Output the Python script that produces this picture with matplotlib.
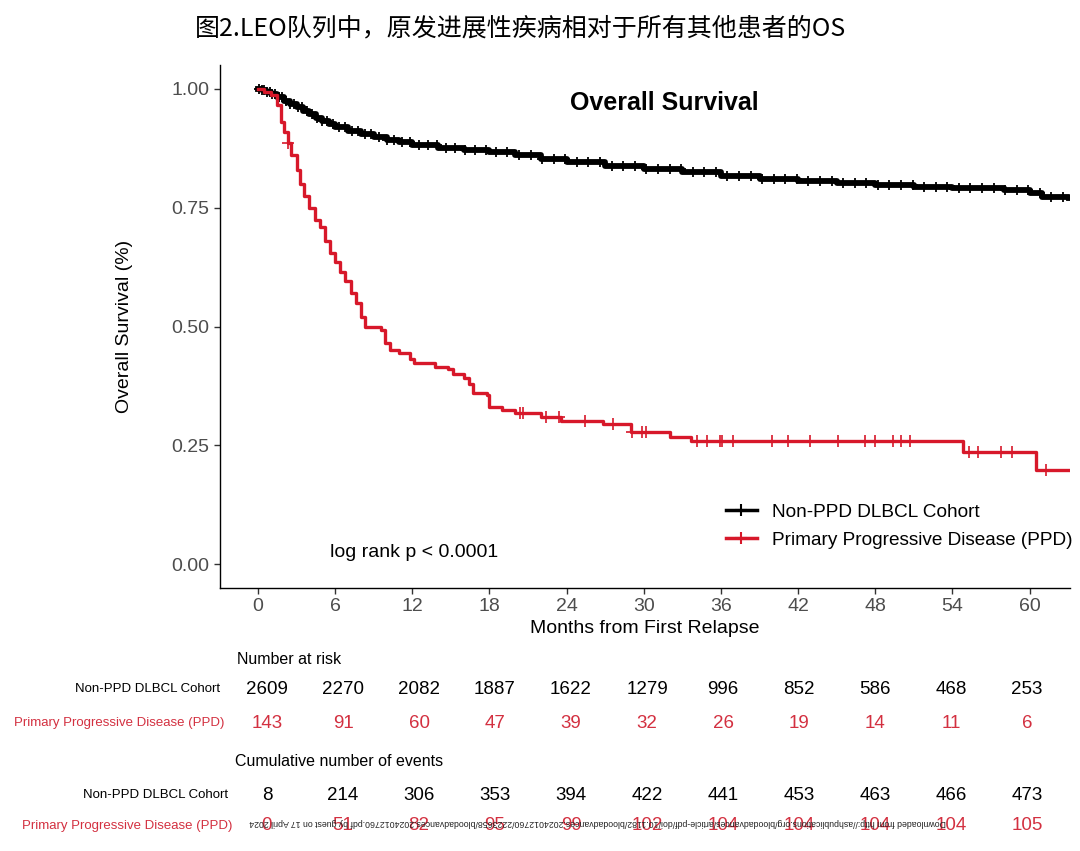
import numpy as np
import matplotlib.pyplot as plt
from matplotlib.lines import Line2D

plt.rcParams['font.family'] = ['Liberation Sans', 'DejaVu Sans']

# KM curves (months, survival)
black_t = [0, 0.3, 0.6, 1, 1.5, 2, 2.5, 3, 3.5, 4, 4.5, 5, 5.5, 6, 7, 8, 9, 10, 11, 12,
           14, 16, 18, 20, 22, 24, 27, 30, 33, 36, 39, 42, 45, 48, 51, 54, 56, 58, 60,
           61, 63.1]
black_s = [1.0, 0.997, 0.993, 0.988, 0.982, 0.975, 0.968, 0.961, 0.953, 0.946, 0.939,
           0.932, 0.926, 0.920, 0.912, 0.905, 0.898, 0.892, 0.887, 0.882, 0.876, 0.871,
           0.866, 0.860, 0.852, 0.846, 0.838, 0.831, 0.824, 0.817, 0.811, 0.806, 0.801,
           0.797, 0.793, 0.792, 0.791, 0.788, 0.780, 0.772, 0.770]
black_cens = [0.1, 0.3, 0.5, 0.7, 0.9, 1.1, 1.3, 1.6, 1.9, 2.2, 2.5, 2.8, 3.1, 3.4, 3.8,
              4.2, 4.6, 5.0, 5.4, 5.8, 6.3, 6.8, 7.3, 7.8, 8.3, 8.8, 9.4, 10.0, 10.6,
              11.2, 11.8, 12.5, 13.2, 13.9, 14.6, 15.3, 16.1, 16.9, 17.7, 18.5, 19.4,
              20.3, 21.2, 22.1, 23.0, 23.9, 24.8, 25.7, 26.6, 27.5, 28.4, 29.3, 30.2,
              31.1, 32.0, 32.9, 33.8, 34.7, 35.6, 36.5, 37.4, 38.3, 39.2, 40.1, 41.0,
              41.9, 42.8, 43.7, 44.6, 45.5, 46.4, 47.3, 48.2, 49.1, 50.0, 50.9, 51.8,
              52.7, 53.6, 54.5, 55.4, 56.3, 57.2, 58.1, 59.0, 59.9, 60.8, 61.7, 62.6]

red_t = [0, 0.5, 1.0, 1.5, 1.8, 2.0, 2.3, 2.6, 3.0, 3.3, 3.6, 4.0, 4.4, 4.8, 5.2, 5.6,
         6.0, 6.4, 6.8, 7.2, 7.6, 8.0, 8.3, 9.6, 9.9, 10.3, 11.0, 11.8, 12.1, 13.8, 14.8,
         15.2, 16.0, 16.4, 16.7, 17.8, 18.0, 19.0, 20.0, 22.0, 23.6, 26.8, 29.0, 32.0,
         33.7, 54.8, 60.5, 63.1]
red_s = [1.0, 0.993, 0.986, 0.965, 0.93, 0.91, 0.885, 0.86, 0.83, 0.80, 0.775, 0.75,
         0.725, 0.71, 0.68, 0.655, 0.635, 0.615, 0.595, 0.57, 0.55, 0.52, 0.5, 0.493,
         0.465, 0.45, 0.445, 0.432, 0.423, 0.415, 0.41, 0.40, 0.392, 0.38, 0.36, 0.355,
         0.331, 0.325, 0.319, 0.31, 0.302, 0.294, 0.279, 0.268, 0.26, 0.237, 0.199, 0.199]
red_cens = [2.3, 20.4, 20.6, 22.4, 23.4, 25.4, 27.6, 29.1, 29.9, 30.2, 34.1, 34.9, 35.9,
            36.1, 36.9, 40.0, 41.2, 42.9, 45.1, 47.2, 48.0, 49.4, 50.0, 50.7, 55.3, 56.0,
            57.8, 58.6, 61.3]

groups = ['Non-PPD DLBCL Cohort', 'Primary Progressive Disease (PPD)']
time_ticks = [0, 6, 12, 18, 24, 30, 36, 42, 48, 54, 60]
at_risk_black = [2609, 2270, 2082, 1887, 1622, 1279, 996, 852, 586, 468, 253]
at_risk_red = [143, 91, 60, 47, 39, 32, 26, 19, 14, 11, 6]
events_black = [8, 214, 306, 353, 394, 422, 441, 453, 463, 466, 473]
events_red = [0, 51, 82, 95, 99, 102, 104, 104, 104, 104, 105]

RED = '#D7182A'
RED_TXT = '#D33040'
W, H = 1080, 851


def surv_at(t, s, x):
    idx = np.searchsorted(t, x, side='right') - 1
    return np.asarray(s)[idx]


def px(x, y):
    # pixel position -> figure fraction
    return x / W, 1 - y / H


fig = plt.figure(figsize=(W / 100, H / 100), dpi=100)
ax = fig.add_axes([220 / W, 1 - 588 / H, 850 / W, (588 - 65) / H])

ax.step(black_t, black_s, where='post', color='black', lw=4.2, zorder=3)
ax.plot(black_cens, surv_at(black_t, black_s, black_cens), ls='none', marker='+',
        ms=6.5, mew=1.3, color='black', zorder=3)
ax.step(red_t, red_s, where='post', color=RED, lw=2.4, zorder=4)
ax.plot(red_cens, surv_at(red_t, red_s, red_cens), ls='none', marker='+',
        ms=8, mew=1.2, color=RED, zorder=4)

ax.set_xlim(-2.95, 63.14)
ax.set_ylim(-0.05, 1.05)
ax.set_xticks(time_ticks)
ax.set_yticks([0, 0.25, 0.5, 0.75, 1.0])
ax.set_yticklabels(['0.00', '0.25', '0.50', '0.75', '1.00'])
for side in ['top', 'right']:
    ax.spines[side].set_visible(False)
for side in ['left', 'bottom']:
    ax.spines[side].set_linewidth(1.0)
ax.tick_params(length=4, width=1, colors='#333333', labelcolor='#4d4d4d', labelsize=14)
ax.set_xlabel('Months from First Relapse', fontsize=14, labelpad=3)
ax.set_ylabel('Overall Survival (%)', fontsize=14, labelpad=28)

ax.text(31.6, 0.97, 'Overall Survival', fontsize=18, fontweight='bold', ha='center', va='center')
ax.text(5.6, 0.025, 'log rank p < 0.0001', fontsize=14, ha='left', va='center')

handles = [Line2D([], [], color='black', lw=2.5, marker='+', ms=9, mew=1.5),
           Line2D([], [], color=RED, lw=2.5, marker='+', ms=9, mew=1.5)]
ax.legend(handles, groups, loc='center right', bbox_to_anchor=(1.023, 0.118), frameon=False,
          fontsize=13.7, handlelength=1.6, handletextpad=0.8, labelspacing=0.58)

fig.text(*px(521, 28), '图2.LEO队列中，原发进展性疾病相对于所有其他患者的OS',
         fontsize=18, ha='center', va='center', family=['Noto Sans CJK SC', 'DejaVu Sans'])

# risk tables
tab = fig.add_axes([220 / W, 0, 850 / W, 1])
tab.set_xlim(-3.71, 63.39)
tab.set_ylim(H, 0)
tab.axis('off')

fig.text(*px(237, 660), 'Number at risk', fontsize=11.5, ha='left', va='center')
fig.text(*px(235, 761), 'Cumulative number of events', fontsize=11.5, ha='left', va='center')
rows = [(689, at_risk_black, 'black', 220),
        (723, at_risk_red, RED_TXT, 224),
        (795, events_black, 'black', 228),
        (826, events_red, RED_TXT, 232)]
names = [groups[0], groups[1], groups[0], groups[1]]
for (y, vals, c, xr), name in zip(rows, names):
    fig.text(*px(xr, y), name, fontsize=9.5, color=c, ha='right', va='center')
    for t, v in zip(time_ticks, vals):
        tab.text(t, y, str(v), fontsize=13.5, color=c, ha='center', va='center')

wm = ('Downloaded from http://ashpublications.org/bloodadvances/article-pdf/doi/10.1182/'
      'bloodadvances.2024012760/2223658/bloodadvances.2024012760.pdf by guest on 17 April 2024')
fig.text(*px(598, 822), wm, fontsize=6.3, rotation=180, ha='center', va='center',
         color='#222222')

fig.savefig('out.png', dpi=100)
